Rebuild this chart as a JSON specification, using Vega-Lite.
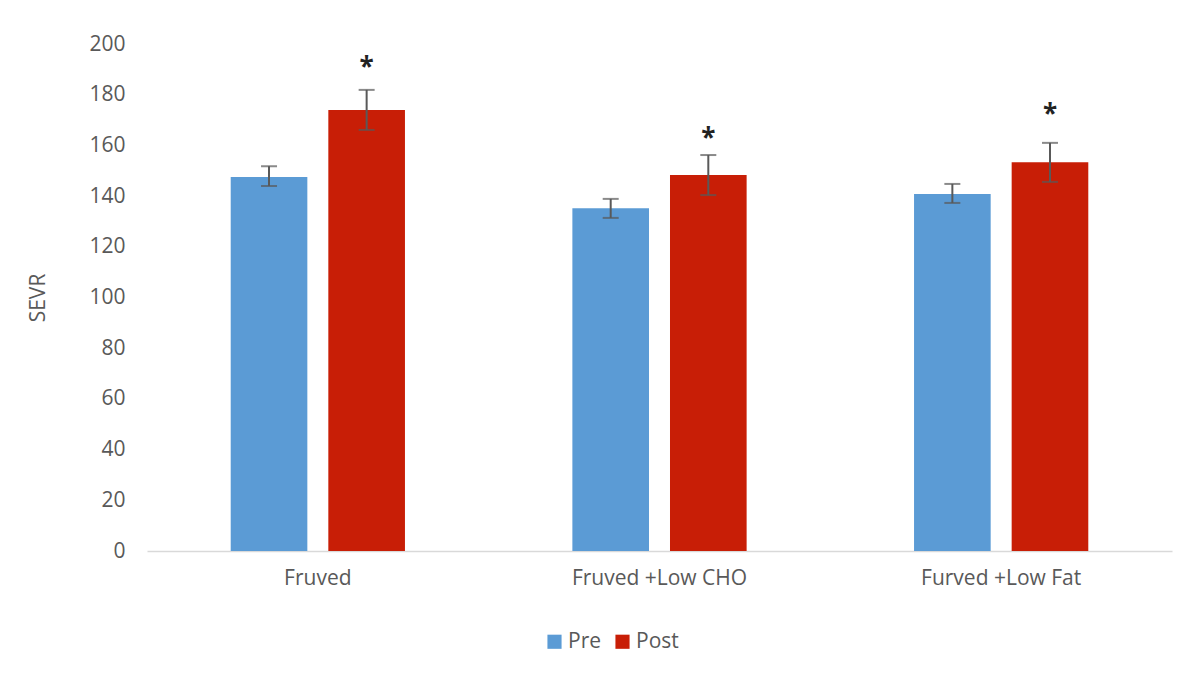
{
  "$schema": "https://vega.github.io/schema/vega-lite/v6.json",
  "width": 1025,
  "height": 507,
  "autosize": {"type": "none"},
  "padding": {"left": 147, "top": 44, "right": 28, "bottom": 130},
  "background": "white",
  "config": {"view": {"stroke": null}},
  "data": {
    "values": [
      {"group": "Fruved", "period": "Pre", "value": 147.5, "lo": 144.0, "hi": 151.8, "star": null},
      {"group": "Fruved", "period": "Post", "value": 174.0, "lo": 166.1, "hi": 181.9, "star": 193},
      {"group": "Fruved +Low CHO", "period": "Pre", "value": 135.2, "lo": 131.4, "hi": 138.9, "star": null},
      {"group": "Fruved +Low CHO", "period": "Post", "value": 148.3, "lo": 140.4, "hi": 156.2, "star": 165},
      {"group": "Furved +Low Fat", "period": "Pre", "value": 140.8, "lo": 137.3, "hi": 144.8, "star": null},
      {"group": "Furved +Low Fat", "period": "Post", "value": 153.4, "lo": 145.6, "hi": 161.0, "star": 174.5}
    ]
  },
  "encoding": {
    "x": {
      "field": "group", "type": "nominal", "sort": null, "title": null,
      "scale": {"paddingInner": 0.49, "paddingOuter": 0.245},
      "axis": {"labelAngle": 0, "labelFontSize": 21, "labelColor": "#595959", "labelFont": "Open Sans",
               "labelPadding": 16, "ticks": false, "domainColor": "#D9D9D9", "domainWidth": 1.5, "grid": false}
    },
    "xOffset": {"field": "period", "type": "nominal", "sort": ["Pre", "Post"], "scale": {"paddingInner": 0.215, "paddingOuter": 0}}
  },
  "layer": [
    {
      "mark": {"type": "bar"},
      "encoding": {
        "y": {"field": "value", "type": "quantitative", "title": "SEVR",
              "scale": {"domain": [0, 200]},
              "axis": {"values": [0,20,40,60,80,100,120,140,160,180,200], "domain": false, "ticks": false, "grid": false,
                       "labelFontSize": 21, "labelColor": "#595959", "labelFont": "Open Sans", "labelPadding": 22,
                       "titleFontSize": 21, "titleColor": "#595959", "titleFont": "Open Sans", "titleFontWeight": "normal", "titlePadding": 40}},
        "color": {"field": "period", "type": "nominal", "title": null,
                  "scale": {"domain": ["Pre", "Post"], "range": ["#5B9BD5", "#C81E06"]},
                  "legend": {"orient": "none", "legendX": 397, "legendY": 587, "direction": "horizontal", "symbolType": "square", "symbolSize": 200,
                             "symbolStrokeWidth": 0, "labelFontSize": 21, "labelColor": "#595959", "labelFont": "Open Sans",
                             "columnPadding": 10, "labelOffset": 3}}
      }
    },
    {
      "mark": {"type": "rule", "color": "#595959", "strokeWidth": 2},
      "encoding": {
        "y": {"field": "lo", "type": "quantitative"},
        "y2": {"field": "hi"}
      }
    },
    {
      "mark": {"type": "tick", "color": "#595959", "thickness": 2, "size": 16, "orient": "horizontal"},
      "encoding": {"y": {"field": "lo", "type": "quantitative"}}
    },
    {
      "mark": {"type": "tick", "color": "#595959", "thickness": 2, "size": 16, "orient": "horizontal"},
      "encoding": {"y": {"field": "hi", "type": "quantitative"}}
    },
    {
      "transform": [{"filter": "datum.star != null"}],
      "mark": {"type": "text", "text": "*", "fontSize": 26, "fontWeight": "bold", "color": "#222222", "baseline": "middle", "dy": 6, "font": "Open Sans"},
      "encoding": {"y": {"field": "star", "type": "quantitative"}}
    }
  ]
}
